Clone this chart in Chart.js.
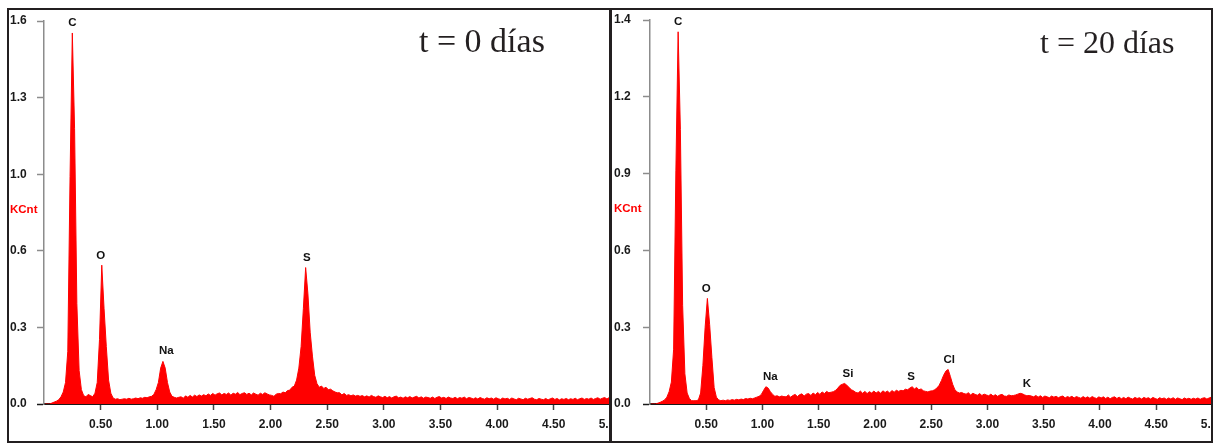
<!DOCTYPE html>
<html>
<head>
<meta charset="utf-8">
<script src="https://cdn.jsdelivr.net/npm/chart.js@4"></script>
<style>
  body { margin: 0; background: #fff; width: 1215px; height: 445px; overflow: hidden; position: relative; }
  .panel { position: absolute; box-sizing: border-box; border: 2px solid #231f20; overflow: hidden; background: #fff; }
  .panel canvas { position: absolute; }
  .title { position: absolute; font-family: "Liberation Serif", serif; color: #231f20; white-space: nowrap; }
</style>
</head>
<body>
<div class="panel" style="left:7px; top:8px; width:602px; height:435px; border-right-width:0;">
  <canvas id="leftChart" width="660" height="445" style="left:-9px; top:-10px;"></canvas>
</div>
<div class="panel" style="left:609px; top:8px; width:604px; height:435px; border-left-width:3px;">
  <canvas id="rightChart" width="660" height="445" style="left:-7px; top:-10px;"></canvas>
</div>
<div class="title" style="left:419px; top:24px; font-size:34px; line-height:34px;">t = 0 días</div>
<div class="title" style="left:1040px; top:26px; font-size:32px; line-height:32px;">t = 20 días</div>
<script>
// channel energies (keV), shared by both spectra
const energyKeV = [
  0.01, 0.03, 0.05, 0.07, 0.09, 0.11, 0.13, 0.15, 0.17, 0.19,
  0.21, 0.23, 0.25, 0.27, 0.29, 0.31, 0.33, 0.35, 0.37, 0.39,
  0.41, 0.43, 0.45, 0.47, 0.49, 0.51, 0.53, 0.55, 0.57, 0.59,
  0.61, 0.63, 0.65, 0.67, 0.69, 0.71, 0.73, 0.75, 0.77, 0.79,
  0.81, 0.83, 0.85, 0.87, 0.89, 0.91, 0.93, 0.95, 0.97, 0.99,
  1.01, 1.03, 1.05, 1.07, 1.09, 1.11, 1.13, 1.15, 1.17, 1.19,
  1.21, 1.23, 1.25, 1.27, 1.29, 1.31, 1.33, 1.35, 1.37, 1.39,
  1.41, 1.43, 1.45, 1.47, 1.49, 1.51, 1.53, 1.55, 1.57, 1.59,
  1.61, 1.63, 1.65, 1.67, 1.69, 1.71, 1.73, 1.75, 1.77, 1.79,
  1.81, 1.83, 1.85, 1.87, 1.89, 1.91, 1.93, 1.95, 1.97, 1.99,
  2.01, 2.03, 2.05, 2.07, 2.09, 2.11, 2.13, 2.15, 2.17, 2.19,
  2.21, 2.23, 2.25, 2.27, 2.29, 2.31, 2.33, 2.35, 2.37, 2.39,
  2.41, 2.43, 2.45, 2.47, 2.49, 2.51, 2.53, 2.55, 2.57, 2.59,
  2.61, 2.63, 2.65, 2.67, 2.69, 2.71, 2.73, 2.75, 2.77, 2.79,
  2.81, 2.83, 2.85, 2.87, 2.89, 2.91, 2.93, 2.95, 2.97, 2.99,
  3.01, 3.03, 3.05, 3.07, 3.09, 3.11, 3.13, 3.15, 3.17, 3.19,
  3.21, 3.23, 3.25, 3.27, 3.29, 3.31, 3.33, 3.35, 3.37, 3.39,
  3.41, 3.43, 3.45, 3.47, 3.49, 3.51, 3.53, 3.55, 3.57, 3.59,
  3.61, 3.63, 3.65, 3.67, 3.69, 3.71, 3.73, 3.75, 3.77, 3.79,
  3.81, 3.83, 3.85, 3.87, 3.89, 3.91, 3.93, 3.95, 3.97, 3.99,
  4.01, 4.03, 4.05, 4.07, 4.09, 4.11, 4.13, 4.15, 4.17, 4.19,
  4.21, 4.23, 4.25, 4.27, 4.29, 4.31, 4.33, 4.35, 4.37, 4.39,
  4.41, 4.43, 4.45, 4.47, 4.49, 4.51, 4.53, 4.55, 4.57, 4.59,
  4.61, 4.63, 4.65, 4.67, 4.69, 4.71, 4.73, 4.75, 4.77, 4.79,
  4.81, 4.83, 4.85, 4.87, 4.89, 4.91, 4.93, 4.95, 4.97, 4.99,
  5.01, 5.03, 5.05, 5.07, 5.09, 5.11, 5.13, 5.15, 5.17, 5.19
];

// t = 0 days, counts in KCnt
const day0Counts = [
  0, 0, 0, 0.004, 0.008, 0.012, 0.018, 0.03, 0.05, 0.09,
  0.22, 0.95, 1.55, 1.15, 0.42, 0.14, 0.06, 0.035, 0.03, 0.04,
  0.035, 0.03, 0.045, 0.09, 0.27, 0.58, 0.40, 0.24, 0.10, 0.045,
  0.025, 0.02, 0.022, 0.018, 0.02, 0.022, 0.02, 0.024, 0.02, 0.022,
  0.025, 0.022, 0.026, 0.024, 0.028, 0.026, 0.03, 0.032, 0.04, 0.06,
  0.09, 0.15, 0.178, 0.15, 0.09, 0.05, 0.032, 0.028, 0.025, 0.028,
  0.03, 0.024, 0.034, 0.028, 0.036, 0.029, 0.037, 0.031, 0.038, 0.033,
  0.039, 0.034, 0.042, 0.036, 0.044, 0.037, 0.043, 0.046, 0.038, 0.044,
  0.04, 0.046, 0.037, 0.045, 0.041, 0.048, 0.039, 0.044, 0.047, 0.04,
  0.045, 0.038, 0.046, 0.041, 0.037, 0.045, 0.04, 0.047, 0.042, 0.038,
  0.036, 0.032, 0.041, 0.044, 0.043, 0.05, 0.047, 0.056, 0.058, 0.07,
  0.075, 0.10, 0.15, 0.24, 0.40, 0.57, 0.46, 0.30, 0.20, 0.12,
  0.085, 0.07, 0.075, 0.065, 0.07, 0.06, 0.062, 0.055, 0.05, 0.047,
  0.047, 0.038, 0.044, 0.036, 0.039, 0.034, 0.038, 0.033, 0.036, 0.032,
  0.035, 0.03, 0.034, 0.029, 0.036, 0.031, 0.028, 0.034, 0.03, 0.027,
  0.032, 0.026, 0.031, 0.025, 0.03, 0.033, 0.026, 0.029, 0.024, 0.03,
  0.026, 0.031, 0.025, 0.029, 0.032, 0.025, 0.03, 0.024, 0.029, 0.027,
  0.024, 0.029, 0.023, 0.028, 0.031, 0.025, 0.028, 0.023, 0.029, 0.025,
  0.023, 0.028, 0.022, 0.027, 0.024, 0.029, 0.022, 0.027, 0.025, 0.021,
  0.026, 0.021, 0.027, 0.023, 0.02, 0.026, 0.022, 0.025, 0.02, 0.026,
  0.022, 0.019, 0.025, 0.021, 0.024, 0.019, 0.025, 0.021, 0.018, 0.024,
  0.021, 0.018, 0.024, 0.02, 0.023, 0.026, 0.02, 0.018, 0.023, 0.02,
  0.018, 0.023, 0.017, 0.022, 0.025, 0.019, 0.023, 0.017, 0.022, 0.019,
  0.023, 0.018, 0.022, 0.019, 0.024, 0.018, 0.022, 0.025, 0.019, 0.023,
  0.02, 0.025, 0.019, 0.023, 0.026, 0.02, 0.024, 0.027, 0.021, 0.027,
  0.029, 0.025, 0.031, 0.027, 0.032, 0.028, 0.031, 0.027, 0.03, 0.029
];

// t = 20 days, counts in KCnt
const day20Counts = [
  0, 0, 0, 0.003, 0.006, 0.01, 0.015, 0.025, 0.045, 0.08,
  0.20, 0.85, 1.357, 1.0, 0.36, 0.11, 0.04, 0.02, 0.012, 0.012,
  0.012, 0.015, 0.04, 0.14, 0.28, 0.385, 0.29, 0.17, 0.06, 0.025,
  0.015, 0.012, 0.014, 0.012, 0.015, 0.013, 0.016, 0.014, 0.017, 0.015,
  0.018, 0.016, 0.02, 0.018, 0.021, 0.019, 0.022, 0.025, 0.028, 0.035,
  0.05, 0.063, 0.058, 0.045, 0.035, 0.028, 0.03, 0.026, 0.029, 0.027,
  0.026, 0.033, 0.025, 0.031, 0.035, 0.027, 0.034, 0.037, 0.029, 0.036,
  0.038, 0.031, 0.04, 0.034, 0.042, 0.035, 0.044, 0.038, 0.046, 0.041,
  0.043, 0.045, 0.05, 0.058, 0.068, 0.072, 0.075, 0.068, 0.06, 0.052,
  0.048, 0.042, 0.04, 0.047, 0.039, 0.046, 0.038, 0.045, 0.04, 0.047,
  0.04, 0.046, 0.039, 0.048, 0.042, 0.047, 0.04, 0.049, 0.043, 0.05,
  0.046, 0.05, 0.048, 0.054, 0.052, 0.058, 0.063, 0.055, 0.06, 0.052,
  0.055, 0.048, 0.046, 0.044, 0.047, 0.048, 0.052, 0.058, 0.068, 0.085,
  0.105, 0.12, 0.126, 0.10, 0.072, 0.052, 0.044, 0.04, 0.042, 0.038,
  0.036, 0.041, 0.033, 0.039, 0.035, 0.032, 0.038, 0.031, 0.036, 0.033,
  0.03, 0.036, 0.029, 0.034, 0.028, 0.033, 0.035, 0.029, 0.028, 0.033,
  0.03, 0.031, 0.033, 0.036, 0.039, 0.037, 0.033, 0.03, 0.031, 0.029,
  0.026, 0.031, 0.025, 0.03, 0.024, 0.029, 0.026, 0.023, 0.029, 0.025,
  0.028, 0.023, 0.027, 0.029, 0.022, 0.027, 0.024, 0.028, 0.022, 0.027,
  0.024, 0.021, 0.027, 0.022, 0.026, 0.021, 0.027, 0.023, 0.02, 0.026,
  0.022, 0.026, 0.02, 0.025, 0.019, 0.024, 0.026, 0.02, 0.025, 0.019,
  0.024, 0.019, 0.025, 0.021, 0.018, 0.024, 0.02, 0.023, 0.018, 0.024,
  0.02, 0.023, 0.018, 0.024, 0.02, 0.017, 0.023, 0.019, 0.022, 0.017,
  0.022, 0.018, 0.023, 0.017, 0.022, 0.019, 0.016, 0.022, 0.018, 0.021,
  0.017, 0.021, 0.018, 0.022, 0.017, 0.021, 0.023, 0.018, 0.022, 0.025,
  0.027, 0.031, 0.027, 0.032, 0.028, 0.031, 0.027, 0.031, 0.028, 0.031
];

// axis ticks
const xTickValues = [0.5, 1.0, 1.5, 2.0, 2.5, 3.0, 3.5, 4.0, 4.5, 5.0];
const day0YTicks = [0, 0.32, 0.64, 0.96, 1.28, 1.6];
const day0YLabels = ['0.0', '0.3', '0.6', '1.0', '1.3', '1.6'];
const day20YTicks = [0, 0.28, 0.56, 0.84, 1.12, 1.4];
const day20YLabels = ['0.0', '0.3', '0.6', '0.9', '1.2', '1.4'];

// peak annotations
const day0PeakNames = ['C', 'O', 'Na', 'S'];
const day0PeakKeV = [0.25, 0.50, 1.08, 2.32];
const day0PeakTop = [1.55, 0.58, 0.18, 0.57];
const day20PeakNames = ['C', 'O', 'Na', 'Si', 'S', 'Cl', 'K'];
const day20PeakKeV = [0.25, 0.50, 1.07, 1.76, 2.32, 2.66, 3.35];
const day20PeakTop = [1.357, 0.385, 0.063, 0.075, 0.063, 0.126, 0.039];

const tickFont = { family: 'Liberation Sans', size: 12, weight: 'bold' };

// draws element names above peaks and the red KCnt unit label
const peakLabelPlugin = {
    id: 'peakLabels',
    afterDatasetsDraw(chart, args, opts) {
        const ctx = chart.ctx;
        const xs = chart.scales.x, ys = chart.scales.y;
        ctx.save();
        ctx.font = 'bold 11.5px "Liberation Sans"';
        ctx.fillStyle = '#111';
        ctx.textAlign = 'center';
        ctx.textBaseline = 'bottom';
        opts.names.forEach((name, i) => {
            ctx.fillText(name, xs.getPixelForValue(opts.keV[i]), ys.getPixelForValue(opts.top[i]) - 4);
        });
        ctx.fillStyle = '#ff0000';
        ctx.textAlign = 'left';
        ctx.textBaseline = 'middle';
        ctx.font = 'bold 11.5px "Liberation Sans"';
        ctx.fillText('KCnt', ys.left, (ys.top + ys.bottom) / 2 - 3);
        ctx.restore();
    }
};

function makeSpectrum(canvasId, counts, yMax, yTicks, yLabels, names, keV, top, padLeft, axisWidth, padTop, padRight) {
    const points = energyKeV.map((e, i) => ({ x: e, y: counts[i] }));
    return new Chart(document.getElementById(canvasId), {
        type: 'line',
        data: {
            datasets: [{
                data: points,
                borderColor: '#ff0000',
                backgroundColor: '#ff0000',
                borderWidth: 1,
                fill: 'origin',
                pointRadius: 0,
                tension: 0
            }]
        },
        plugins: [peakLabelPlugin],
        options: {
            responsive: false,
            animation: false,
            layout: { padding: { left: padLeft, top: padTop, right: padRight, bottom: 0 } },
            plugins: {
                legend: { display: false },
                tooltip: { enabled: false },
                peakLabels: { names: names, keV: keV, top: top }
            },
            scales: {
                x: {
                    type: 'linear',
                    min: 0,
                    max: 5.2,
                    afterBuildTicks: (s) => { s.ticks = xTickValues.map(v => ({ value: v })); },
                    afterFit: (s) => { s.height = 41; },
                    border: { color: '#1a1a1a', width: 2 },
                    grid: { drawOnChartArea: false, tickLength: 6, tickColor: '#444', tickWidth: 1.5 },
                    ticks: {
                        autoSkip: false, maxRotation: 0, padding: 7,
                        color: '#1a1a1a', font: tickFont,
                        callback: (v) => Number(v).toFixed(2)
                    }
                },
                y: {
                    type: 'linear',
                    min: 0,
                    max: yMax,
                    afterBuildTicks: (s) => { s.ticks = yTicks.map(v => ({ value: v })); },
                    afterFit: (s) => { s.width = axisWidth; },
                    border: { color: '#8c8c8c', width: 1.5 },
                    grid: {
                        drawOnChartArea: false, tickLength: 7, tickWidth: 1.5,
                        tickColor: (c) => c.index === 0 ? '#1a1a1a' : '#8c8c8c'
                    },
                    ticks: {
                        crossAlign: 'far', padding: 0,
                        color: '#1a1a1a', font: tickFont,
                        callback: (v, i) => yLabels[i]
                    }
                }
            }
        }
    });
}

makeSpectrum('leftChart', day0Counts, 1.6, day0YTicks, day0YLabels,
    day0PeakNames, day0PeakKeV, day0PeakTop, 10, 34, 21, 27);
makeSpectrum('rightChart', day20Counts, 1.4, day20YTicks, day20YLabels,
    day20PeakNames, day20PeakKeV, day20PeakTop, 9, 36, 20, 30);
</script>
</body>
</html>
